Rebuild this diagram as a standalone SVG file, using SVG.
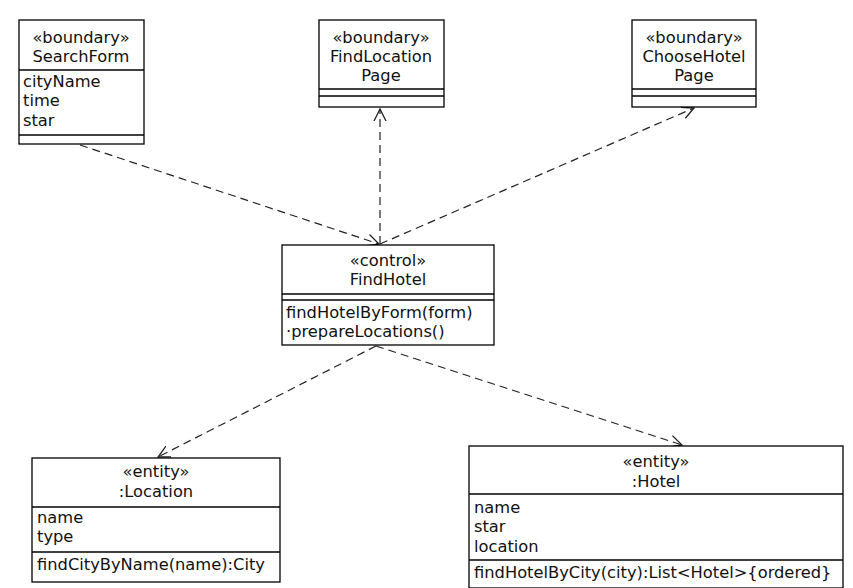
<svg xmlns="http://www.w3.org/2000/svg" width="853" height="588" viewBox="0 0 853 588">
<style>
.box{fill:#fff;stroke:#000;stroke-width:1.3}
.ln{stroke:#000;stroke-width:1.3}
text{font-family:"DejaVu Sans","Liberation Sans",sans-serif;font-size:16.3px;fill:#111}
.c{text-anchor:middle}
.con{fill:none;stroke:#222;stroke-width:1.2;stroke-dasharray:8,5}
</style>
<defs>
<marker id="arr" markerWidth="14" markerHeight="14" refX="12" refY="6" orient="auto" markerUnits="userSpaceOnUse" viewBox="0 0 14 12">
<path d="M0,0 L12,6 L0,12" fill="none" stroke="#222" stroke-width="1.3"/>
</marker>
</defs>
<rect width="853" height="588" fill="#fff"/>
<g id="connectors">
<line class="con" x1="80" y1="145" x2="379" y2="244" marker-end="url(#arr)"/>
<line class="con" x1="380" y1="244" x2="380" y2="109" marker-end="url(#arr)"/>
<line class="con" x1="380" y1="244" x2="694" y2="108" marker-end="url(#arr)"/>
<line class="con" x1="376" y1="346" x2="158" y2="457" marker-end="url(#arr)"/>
<line class="con" x1="376" y1="346" x2="682" y2="445" marker-end="url(#arr)"/>
</g>
<g id="SearchForm">
<rect class="box" x="19" y="20" width="125" height="124"/>
<line class="ln" x1="19" y1="70" x2="144" y2="70"/>
<line class="ln" x1="19" y1="135" x2="144" y2="135"/>
<text class="c" x="81" y="43">«boundary»</text>
<text class="c" x="81" y="62">SearchForm</text>
<text x="23" y="87">cityName</text>
<text x="23" y="106">time</text>
<text x="23" y="126">star</text>
</g>
<g id="FindLocationPage">
<rect class="box" x="319" y="20" width="125" height="87"/>
<line class="ln" x1="319" y1="89" x2="444" y2="89"/>
<line class="ln" x1="319" y1="96" x2="444" y2="96"/>
<text class="c" x="381" y="43">«boundary»</text>
<text class="c" x="381" y="62">FindLocation</text>
<text class="c" x="381" y="81">Page</text>
</g>
<g id="ChooseHotelPage">
<rect class="box" x="632" y="20" width="124" height="87"/>
<line class="ln" x1="632" y1="89" x2="756" y2="89"/>
<line class="ln" x1="632" y1="96" x2="756" y2="96"/>
<text class="c" x="694" y="43">«boundary»</text>
<text class="c" x="694" y="62">ChooseHotel</text>
<text class="c" x="694" y="81">Page</text>
</g>
<g id="FindHotel">
<rect class="box" x="282" y="245" width="212" height="100"/>
<line class="ln" x1="282" y1="294" x2="494" y2="294"/>
<line class="ln" x1="282" y1="300" x2="494" y2="300"/>
<text class="c" x="388" y="266">«control»</text>
<text class="c" x="388" y="285">FindHotel</text>
<text x="286" y="318">findHotelByForm(form)</text>
<text x="286" y="337">·prepareLocations()</text>
</g>
<g id="Location">
<rect class="box" x="32" y="458" width="248" height="124"/>
<line class="ln" x1="32" y1="507" x2="280" y2="507"/>
<line class="ln" x1="32" y1="552" x2="280" y2="552"/>
<text class="c" x="156" y="477">«entity»</text>
<text class="c" x="156" y="497">:Location</text>
<text x="37" y="523">name</text>
<text x="37" y="542">type</text>
<text x="37" y="570">findCityByName(name):City</text>
</g>
<g id="Hotel">
<rect class="box" x="469" y="446" width="374" height="142"/>
<line class="ln" x1="469" y1="494" x2="843" y2="494"/>
<line class="ln" x1="469" y1="560" x2="843" y2="560"/>
<text class="c" x="656" y="467">«entity»</text>
<text class="c" x="656" y="487">:Hotel</text>
<text x="474" y="513">name</text>
<text x="474" y="532">star</text>
<text x="474" y="552">location</text>
<text x="474" y="578">findHotelByCity(city):List&lt;Hotel&gt;{ordered}</text>
</g>
</svg>
